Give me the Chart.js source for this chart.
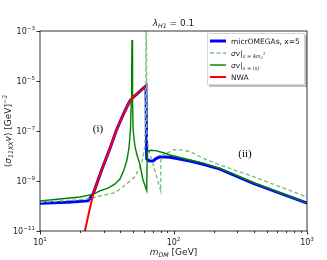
<!DOCTYPE html>
<html>
<head>
<meta charset="utf-8">
<script src="https://cdn.jsdelivr.net/npm/chart.js@4.4.0/dist/chart.umd.min.js"></script>
<style>
  html, body { margin: 0; padding: 0; background: #fff; }
  #wrap { width: 327px; height: 260px; }
</style>
</head>
<body>
<div id="wrap"><canvas id="chart" width="327" height="260"></canvas></div>
<script>
// values (x: m_DM in GeV, y: <sigma v> in GeV^-2)
const blueMass  = [10, 16, 22.9, 25.1, 29.0, 32.9, 37.4, 41.9, 44.5, 47.2, 50.5, 54.2, 58, 62.2, 63.0, 66, 70.6, 74, 79.3, 94.2, 133, 167, 223, 396, 1000];
const blueSigma = [1.3e-10, 1.4e-10, 1.6e-10, 3.2e-10, 2.8e-9, 1.6e-8, 1.1e-7, 4.4e-7, 8.7e-7, 1.6e-6, 2.4e-6, 3.3e-6, 4.6e-6, 6.3e-6, 7.6e-9, 6.3e-9, 6.5e-9, 7.9e-9, 9.3e-9, 8.9e-9, 6.3e-9, 4.7e-9, 3.0e-9, 8.1e-10, 1.3e-10];

const redMass  = [21.0, 21.7, 23.3, 25.1, 29.0, 32.9, 37.4, 41.9, 44.5, 47.2, 50.5, 54.2, 58, 62.2];
const redSigma = [4e-12, 1e-11, 5.8e-11, 3.2e-10, 2.8e-9, 1.6e-8, 1.1e-7, 4.4e-7, 8.7e-7, 1.6e-6, 2.4e-6, 3.3e-6, 4.6e-6, 6.3e-6];

const greenMass  = [10, 14.1, 20, 24.9, 28.1, 32.3, 36.5, 39.7, 42.6, 44.8, 46.4, 47.6, 48.3, 48.6, 48.9, 49.2, 49.5, 49.8, 51.5, 53.3, 56.1, 59.1, 63.0, 63.6, 68, 74.8, 83.9, 94.2, 133, 167, 223, 396, 1000];
const greenSigma = [1.6e-10, 1.9e-10, 2.3e-10, 2.9e-10, 4.0e-10, 5.2e-10, 7.6e-10, 1.2e-9, 2.8e-9, 6.9e-9, 2.1e-8, 1.1e-7, 1.7e-6, 3e-5, 4.4e-4, 3e-5, 1.7e-6, 1.1e-7, 2.3e-8, 1.1e-8, 4.4e-9, 1.1e-9, 4.2e-10, 1.5e-8, 1.7e-8, 1.6e-8, 1.35e-8, 1.1e-8, 6.9e-9, 5.2e-9, 3.2e-9, 8.7e-10, 1.3e-10];

const dashMass  = [10, 20, 24.9, 28.1, 36.5, 42, 51.5, 57.7, 61, 62.0, 62.3, 62.6, 63.0, 65, 70, 75, 80.2, 80.5, 94.2, 100, 112, 133, 167, 223, 396, 1000];
const dashSigma = [1.4e-10, 1.8e-10, 2.1e-10, 2.5e-10, 3.4e-10, 5.9e-10, 1.5e-9, 5.1e-9, 2.3e-8, 1.6e-6, 3e-2, 3e-2, 1e-7, 1.7e-8, 5.2e-9, 1.4e-9, 4e-10, 1e-8, 1.5e-8, 1.8e-8, 1.75e-8, 1.5e-8, 8.1e-9, 4.4e-9, 1.5e-9, 2.3e-10];

const xTickValues = [10, 100, 1000];
const yTickValues = [1e-3, 1e-5, 1e-7, 1e-9, 1e-11];

const FONT = '"DejaVu Sans", sans-serif';

function pts(xs, ys) {
    return xs.map((x, i) => ({ x: x, y: ys[i] }));
}

// draw a row of text pieces (for sub/superscripts), returns width
function drawRuns(ctx, parts, x, y, align) {
    let w = 0;
    parts.forEach(p => {
        ctx.font = (p.it ? 'italic ' : '') + p.s + 'px ' + (p.f || FONT);
        p.w = ctx.measureText(p.t).width;
        w += p.w;
    });
    let cx = align === 'center' ? x - w / 2 : align === 'right' ? x - w : x;
    ctx.textAlign = 'left';
    ctx.textBaseline = 'alphabetic';
    parts.forEach(p => {
        ctx.font = (p.it ? 'italic ' : '') + p.s + 'px ' + (p.f || FONT);
        ctx.fillText(p.t, cx, y + (p.dy || 0));
        cx += p.w;
    });
    return w;
}

function pow10(exp) {
    return [{ t: '10', s: 8 }, { t: String(exp).replace('-', '\u2212'), s: 5.6, dy: -4 }];
}

const decor = {
    id: 'decor',
    afterDatasetsDraw(chart) {
        const ctx = chart.ctx;
        const a = chart.chartArea;
        const xs = chart.scales.x, ys = chart.scales.y;
        ctx.save();
        ctx.fillStyle = '#000';
        ctx.strokeStyle = '#000';
        ctx.lineWidth = 0.8;
        ctx.strokeRect(a.left, a.top, a.right - a.left, a.bottom - a.top);

        // x ticks (major + minor)
        ctx.beginPath();
        for (let d = 10; d <= 1000; d *= 10) {
            for (let k = 1; k < 10; k++) {
                const v = d * k;
                if (v > 1000) break;
                const px = Math.round(xs.getPixelForValue(v)) + 0.5;
                const len = k === 1 ? 3.5 : 2;
                ctx.moveTo(px, a.bottom);
                ctx.lineTo(px, a.bottom + len);
            }
        }
        yTickValues.forEach(v => {
            const py = Math.round(ys.getPixelForValue(v)) + 0.5;
            ctx.moveTo(a.left, py);
            ctx.lineTo(a.left - 3.5, py);
        });
        ctx.stroke();

        ctx.fillStyle = '#222';
        xTickValues.forEach(v => {
            drawRuns(ctx, pow10(Math.round(Math.log10(v))), xs.getPixelForValue(v), a.bottom + 13.5, 'center');
        });
        yTickValues.forEach(v => {
            drawRuns(ctx, pow10(Math.round(Math.log10(v))), a.left - 5, ys.getPixelForValue(v) + 3, 'right');
        });

        // axis titles
        drawRuns(ctx, [
            { t: 'm', s: 9, it: true },
            { t: 'DM', s: 6.3, it: true, dy: 2 },
            { t: ' [GeV]', s: 9 }
        ], (a.left + a.right) / 2, 255, 'center');

        ctx.save();
        ctx.translate(11, (a.top + a.bottom) / 2);
        ctx.rotate(-Math.PI / 2);
        drawRuns(ctx, [
            { t: '\u27e8', s: 9 },
            { t: '\u03c3', s: 9, it: true },
            { t: '11XX', s: 6.3, it: true, dy: 2 },
            { t: 'v', s: 9, it: true },
            { t: '\u27e9 [GeV]', s: 9 },
            { t: '\u22122', s: 6.3, dy: -4 }
        ], 0, 0, 'center');
        ctx.restore();

        // title
        drawRuns(ctx, [
            { t: '\u03bb', s: 9, it: true },
            { t: 'H1', s: 6.3, it: true, dy: 2 },
            { t: ' = 0.1', s: 9 }
        ], (a.left + a.right) / 2, 26, 'center');

        // region labels
        ctx.fillStyle = '#000';
        drawRuns(ctx, [{ t: '(i)', s: 11, f: '"Liberation Serif", serif' }], 98, 132, 'center');
        drawRuns(ctx, [{ t: '(ii)', s: 11, f: '"Liberation Serif", serif' }], 245, 157, 'center');

        // legend
        const lx = 207, ly = 33, lw = 98, lh = 52;
        ctx.fillStyle = 'rgba(0,0,0,0.25)';
        ctx.fillRect(lx + 2, ly + 2, lw, lh);
        ctx.fillStyle = '#fff';
        ctx.fillRect(lx, ly, lw, lh);
        ctx.strokeStyle = '#ccc';
        ctx.lineWidth = 0.8;
        ctx.strokeRect(lx + 0.5, ly + 0.5, lw - 1, lh - 1);

        const items = [
            { c: '#0000ff', w: 3, dash: [], parts: [{ t: 'micrOMEGAs, x=5', s: 7.5 }] },
            { c: '#7fbf7f', w: 1.4, dash: [4, 2.5], parts: [
                { t: '\u03c3v', s: 7.5, it: true }, { t: '|', s: 7.5 },
                { t: 's', s: 5, it: true, dy: 2 }, { t: ' = 4', s: 5, dy: 2 },
                { t: 'm', s: 5, it: true, dy: 2 }, { t: '1', s: 3.6, it: true, dy: 3 }, { t: '2', s: 3.6, dy: -0.5 }
            ] },
            { c: '#008000', w: 1.4, dash: [], parts: [
                { t: '\u03c3v', s: 7.5, it: true }, { t: '|', s: 7.5 },
                { t: 's', s: 5, it: true, dy: 2 }, { t: ' = \u27e8', s: 5, dy: 2 },
                { t: 's', s: 5, it: true, dy: 2 }, { t: '\u27e9', s: 5, dy: 2 }
            ] },
            { c: '#ff0000', w: 2, dash: [], parts: [{ t: 'NWA', s: 7.5 }] }
        ];
        const rowY = [41, 53, 65, 77];
        items.forEach((it, i) => {
            ctx.strokeStyle = it.c;
            ctx.lineWidth = it.w;
            ctx.setLineDash(it.dash);
            ctx.beginPath();
            ctx.moveTo(lx + 3, rowY[i]);
            ctx.lineTo(lx + 19, rowY[i]);
            ctx.stroke();
            ctx.setLineDash([]);
            ctx.fillStyle = '#222';
            drawRuns(ctx, it.parts, lx + 24, rowY[i] + 2.7, 'left');
        });
        ctx.restore();
    }
};

function ds(label, xs, ys, color, width, dash, order) {
    return {
        label: label,
        data: pts(xs, ys),
        borderColor: color,
        borderWidth: width,
        borderDash: dash,
        pointRadius: 0,
        tension: 0,
        fill: false,
        order: order
    };
}

new Chart(document.getElementById('chart'), {
    type: 'line',
    data: {
        datasets: [
            ds('micrOMEGAs, x=5', blueMass, blueSigma, '#0000ff', 3, [], 3),
            ds('sv s=4m2', dashMass, dashSigma, '#7fbf7f', 1.4, [4, 2.5], 2),
            ds('sv s=<s>', greenMass, greenSigma, '#008000', 1.4, [], 1),
            ds('NWA', redMass, redSigma, '#ff0000', 2, [], 0)
        ]
    },
    options: {
        responsive: false,
        animation: false,
        devicePixelRatio: 1,
        layout: { padding: { left: 40, top: 31, right: 20, bottom: 29 } },
        plugins: { legend: { display: false }, tooltip: { enabled: false }, title: { display: false } },
        scales: {
            x: {
                type: 'logarithmic', min: 10, max: 1000,
                grid: { display: false }, border: { display: false },
                ticks: { display: false },
                afterFit(s) { s.height = 0; }
            },
            y: {
                type: 'logarithmic', min: 1e-11, max: 1e-3,
                grid: { display: false }, border: { display: false },
                ticks: { display: false },
                afterFit(s) { s.width = 0; }
            }
        }
    },
    plugins: [decor]
});
</script>
</body>
</html>
